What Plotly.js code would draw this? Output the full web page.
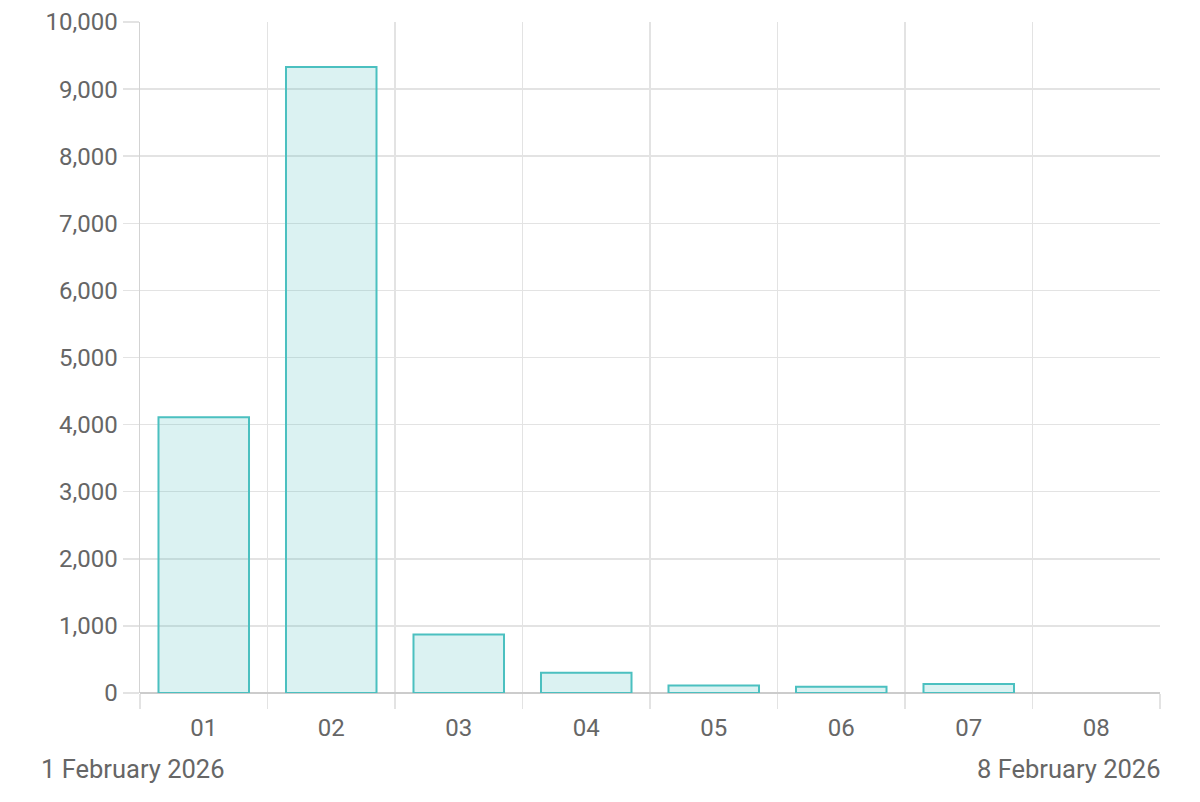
<!DOCTYPE html>
<html>
<head>
<meta charset="utf-8">
<script src="https://cdn.plot.ly/plotly-3.0.1.min.js"></script>
<style>
html,body{margin:0;padding:0;background:#fff;}
#chart{width:1200px;height:802px;}
</style>
</head>
<body>
<div id="chart"></div>
<script>
var dayLabels = ["01","02","03","04","05","06","07","08"];
var values = [4110, 9330, 870, 300, 113, 94, 134, 0];
var startLabel = "1 February 2026";
var endLabel = "8 February 2026";
var yTicks = [0,1000,2000,3000,4000,5000,6000,7000,8000,9000,10000];

var xPos = dayLabels.map(function(_, i){ return i; });
var boundaries = [];
for (var i = 0; i <= dayLabels.length; i++) boundaries.push(i - 0.5);
var borderWidths = values.map(function(v){ return v > 0 ? 2 : 0; });

var trace = {
  type: 'bar',
  x: xPos,
  y: values,
  width: 0.71,
  marker: {
    color: 'rgba(75,192,192,0.2)',
    line: {color: 'rgb(75,192,192)', width: borderWidths}
  },
  hoverinfo: 'none'
};

var font = {family: 'Roboto, sans-serif', color: '#666', size: 24};
var dateFont = {family: 'Roboto, sans-serif', color: '#666', size: 25.5};

var layout = {
  width: 1200, height: 802,
  margin: {l: 140, r: 40, t: 22, b: 109},
  paper_bgcolor: '#fff', plot_bgcolor: '#fff',
  showlegend: false,
  font: font,
  xaxis: {
    type: 'linear',
    range: [-0.5, dayLabels.length - 0.5],
    tickvals: xPos,
    ticktext: dayLabels,
    ticks: 'outside',
    ticklen: 13,
    tickcolor: 'rgba(0,0,0,0)',
    showgrid: false,
    zeroline: false,
    showline: false,
    tickfont: font,
    minor: {
      tickvals: boundaries,
      showgrid: true,
      gridcolor: '#e3e3e3',
      gridwidth: 1.5,
      ticks: 'outside',
      ticklen: 15,
      tickcolor: '#e3e3e3',
      tickwidth: 1.5
    },
    fixedrange: true
  },
  yaxis: {
    range: [0, 10000],
    tickvals: yTicks,
    tickformat: ',d',
    showgrid: true,
    gridcolor: '#e3e3e3',
    gridwidth: 1.5,
    ticks: 'outside',
    ticklen: 16,
    tickcolor: '#e3e3e3',
    tickwidth: 1.5,
    zeroline: true,
    zerolinecolor: '#cccccc',
    zerolinewidth: 2,
    showline: true,
    linecolor: '#d3d3d3',
    linewidth: 1.5,
    tickfont: font,
    fixedrange: true
  },
  annotations: [
    {xref: 'paper', yref: 'paper', x: -0.099, y: -0.113, xanchor: 'left', yanchor: 'middle',
     text: startLabel, showarrow: false, font: dateFont},
    {xref: 'paper', yref: 'paper', x: 1.002, y: -0.113, xanchor: 'right', yanchor: 'middle',
     text: endLabel, showarrow: false, font: dateFont}
  ]
};

Plotly.newPlot('chart', [trace], layout, {displayModeBar: false, staticPlot: true});
</script>
</body>
</html>
